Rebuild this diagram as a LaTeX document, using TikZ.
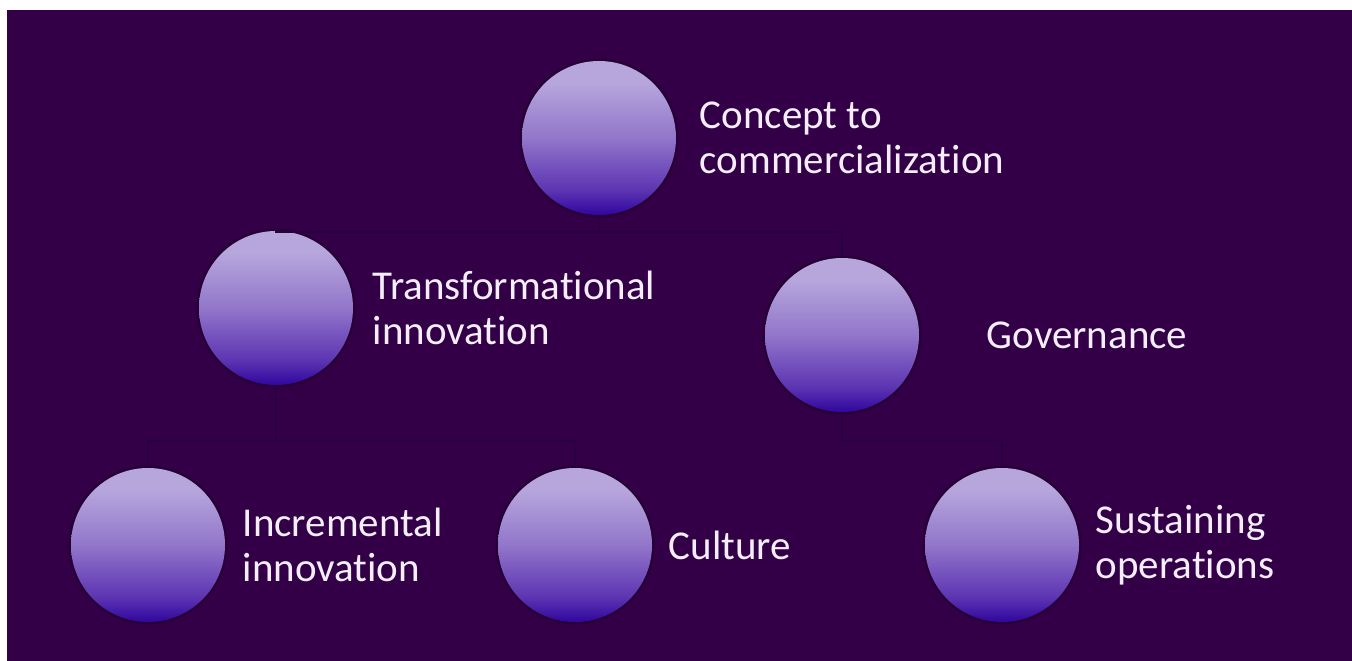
\documentclass[tikz,border=0pt]{standalone}
\usepackage{fontspec}
\setmainfont{Carlito}[Ligatures=NoCommon]
\usetikzlibrary{positioning}

\definecolor{bgpurple}{RGB}{51,0,72}
\definecolor{linkpurple}{RGB}{38,0,66}
\definecolor{halopurple}{RGB}{36,0,50}
\definecolor{orbtop}{RGB}{182,166,220}
\definecolor{orbmid}{RGB}{146,118,202}
\definecolor{orblow}{RGB}{92,52,178}
\definecolor{orbbot}{RGB}{48,6,158}
\definecolor{labeltext}{RGB}{244,238,250}

\pgfdeclareverticalshading{orbshade}{100bp}{color(0bp)=(orbbot); color(25bp)=(orbbot); color(33bp)=(orblow); color(50bp)=(orbmid); color(68bp)=(orbtop); color(100bp)=(orbtop)}

\tikzset{
  orb/.style={circle, minimum size=154pt, inner sep=0pt, shade, shading=orbshade,
    preaction={draw=halopurple, line width=5pt, opacity=0.8}},
  orbtext/.style={text=labeltext, align=left, font=\fontsize{41}{45}\selectfont},
  link/.style={draw=linkpurple, line width=2pt}
}

\begin{document}
\begin{tikzpicture}[x=1pt, y=-1pt]
\useasboundingbox (0,0) rectangle (1352,661);
\fill[white] (0,0) rectangle (1352,661);
\fill[bgpurple] (7,10) rectangle (1352,661);
% the circles
\node[orb] (cc) at (599,138) {};
\node[orb] (ti) at (276,308) {};
\node[orb] (gov) at (842,335) {};
\node[orb] (inc) at (148,545) {};
\node[orb] (cul) at (575,545) {};
\node[orb] (sus) at (1002,545) {};
% their labels
\node[orbtext, right=20pt of cc] (cc-text) {Concept to\\commercialization};
\node[orbtext, right=16pt of ti] (ti-text) {Transformational\\innovation};
\node[orbtext, right=64pt of gov] (gov-text) {Governance};
\node[orbtext, right=14pt of inc] (inc-text) {Incremental\\innovation};
\node[orbtext, right=13pt of cul] (cul-text) {Culture};
\node[orbtext, right=13pt of sus] (sus-text) {Sustaining\\operations};
% the tree lines
\coordinate (cc-fork) at (599,232);
\coordinate (ti-fork) at (276,441);
\coordinate (gov-fork) at (842,441);
\draw[link] (cc.south) -- (cc-fork) -| (ti.north);
\draw[link] (cc-fork) -| (gov.north);
\draw[link] (ti.south) -- (ti-fork) -| (inc.north);
\draw[link] (ti-fork) -| (cul.north);
\draw[link] (gov.south) -- (gov-fork) -| (sus.north);
\end{tikzpicture}
\end{document}
